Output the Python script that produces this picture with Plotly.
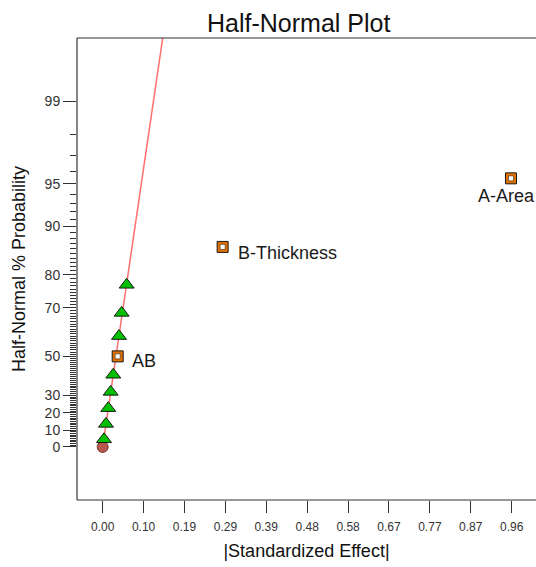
from statistics import NormalDist
import plotly.graph_objects as go

# ---- data ----
error_effects = [0.0031, 0.0078, 0.0132, 0.0189, 0.0250, 0.0385, 0.0448, 0.0566]
error_prob = [4.55, 13.64, 22.73, 31.82, 40.91, 59.09, 68.18, 77.27]

term_names = ["AB", "B-Thickness", "A-Area"]
term_effects = [0.0354, 0.283, 0.9634]
term_prob = [50.0, 86.36, 95.45]

origin_effect = [0.0]
origin_prob = [0.0]

fit_x = [0.0, 0.16]
fit_slope = 21.5  # half-normal z per unit effect

y_tick_labels = [0, 10, 20, 30, 50, 70, 80, 90, 95, 99]
y_minor_labels = [v for v in range(1, 99) if v not in y_tick_labels]

x_tick_vals = [0.0, 0.0965, 0.193, 0.2895, 0.386, 0.4825, 0.579, 0.6755, 0.772, 0.8685, 0.965]
x_tick_text = ["0.00", "0.10", "0.19", "0.29", "0.39", "0.48", "0.58", "0.67", "0.77", "0.87", "0.96"]

nd = NormalDist()


def hz(p):
    """half-normal quantile of a percent probability"""
    return nd.inv_cdf(0.5 + p / 200.0)


fig = go.Figure()

fig.add_trace(go.Scatter(
    x=fit_x, y=[fit_slope * v for v in fit_x], mode="lines",
    line=dict(color="#ff7070", width=1.5), hoverinfo="skip", showlegend=False))

fig.add_trace(go.Scatter(
    x=origin_effect, y=[hz(p) for p in origin_prob], mode="markers",
    marker=dict(symbol="circle", size=11, color="#b8574f", line=dict(color="#7a3a33", width=1)),
    showlegend=False))

fig.add_trace(go.Scatter(
    x=error_effects, y=[hz(p) for p in error_prob], mode="markers",
    marker=dict(symbol="triangle-up", size=13, color="#00c000", line=dict(color="#1a1a1a", width=1)),
    showlegend=False))

fig.add_trace(go.Scatter(
    x=term_effects, y=[hz(p) for p in term_prob], mode="markers",
    marker=dict(symbol="square", size=11, color="#e07000", line=dict(color="#1a1a1a", width=1)),
    showlegend=False))
fig.add_trace(go.Scatter(
    x=term_effects, y=[hz(p) for p in term_prob], mode="markers",
    marker=dict(symbol="square", size=5, color="white", line=dict(color="#3a2a1a", width=0.6)),
    showlegend=False))

label_shift = {"AB": (12, -5, "left"), "B-Thickness": (13, -6, "left"), "A-Area": (-35, -18, "left")}
for name, xe, pr in zip(term_names, term_effects, term_prob):
    dx, dy, anc = label_shift[name]
    fig.add_annotation(x=xe, y=hz(pr), text=name, showarrow=False, xanchor=anc, yanchor="middle",
                       xshift=dx, yshift=dy, font=dict(family="Liberation Sans, Arial", size=18, color="#1a1a1a"))

# frame: left, top, bottom
for x0, y0, x1, y1 in [(0, 0, 0, 1), (0, 1, 1, 1), (0, 0, 1, 0)]:
    fig.add_shape(type="line", xref="paper", yref="paper", x0=x0, y0=y0, x1=x1, y1=y1,
                  line=dict(color="#333333", width=1.2), layer="above")

fig.update_layout(
    width=536, height=567,
    margin=dict(l=77, r=0, t=38, b=67, autoexpand=False),
    paper_bgcolor="white", plot_bgcolor="white",
    font=dict(family="Liberation Sans, Arial", color="#222222"),
    title=dict(text="Half-Normal Plot", x=298.7 / 536, xanchor="center", xref="container",
               y=1 - 23 / 567, yanchor="middle", yref="container",
               font=dict(size=25, color="#111111")),
    xaxis=dict(range=[-0.0606, 1.0224], showgrid=False, zeroline=False, showline=False,
               automargin=False,
               tickmode="array", tickvals=x_tick_vals, ticktext=x_tick_text,
               ticks="outside", ticklen=12, tickcolor="#333333", ticklabelstandoff=4,
               tickfont=dict(size=12, color="#333333"),
               title=dict(text="|Standardized Effect|", font=dict(size=18, color="#111111"), standoff=10)),
    yaxis=dict(range=[-0.395, 3.045], showgrid=False, zeroline=False, showline=False,
               automargin=False,
               tickmode="array", tickvals=[hz(v) for v in y_tick_labels],
               ticktext=[str(v) for v in y_tick_labels],
               ticks="outside", ticklen=13, tickcolor="#333333",
               tickfont=dict(size=14, color="#333333"),
               minor=dict(tickvals=[hz(v) for v in y_minor_labels], ticks="outside", ticklen=6,
                          tickcolor="#333333", showgrid=False),
               title=dict(text="Half-Normal % Probability", font=dict(size=18, color="#111111"), standoff=14)),
)

fig.write_html("out.html", config={"displayModeBar": False},
               post_script="document.body.style.margin='0';document.body.style.overflow='hidden';")
